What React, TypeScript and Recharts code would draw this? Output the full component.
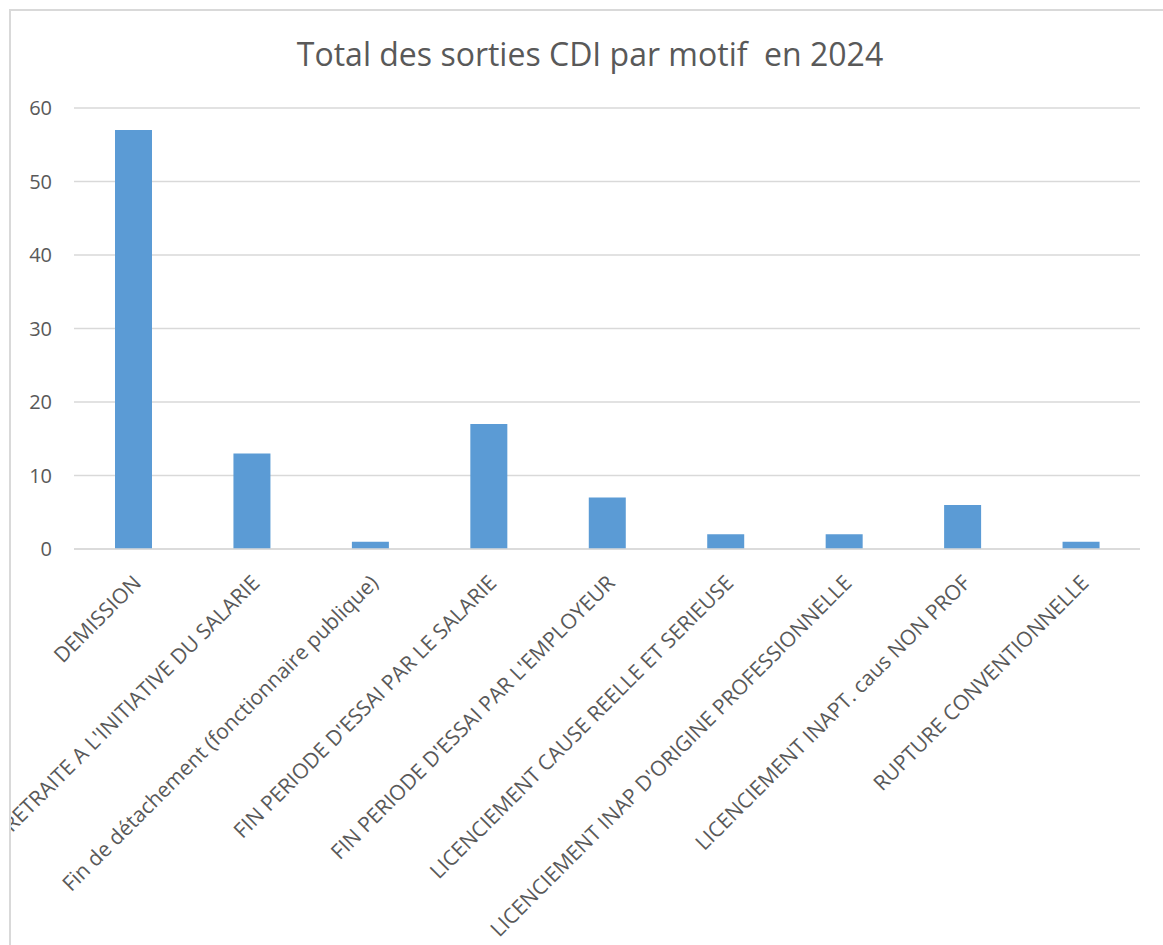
import React from "react";
import { BarChart, Bar, XAxis, YAxis, CartesianGrid } from "recharts";

const motifs = [
  "DEMISSION",
  "RETRAITE A L'INITIATIVE DU SALARIE",
  "Fin de détachement (fonctionnaire publique)",
  "FIN PERIODE D'ESSAI PAR LE SALARIE",
  "FIN PERIODE D'ESSAI PAR L'EMPLOYEUR",
  "LICENCIEMENT CAUSE REELLE ET SERIEUSE",
  "LICENCIEMENT INAP D'ORIGINE PROFESSIONNELLE",
  "LICENCIEMENT INAPT. caus NON PROF",
  "RUPTURE CONVENTIONNELLE",
];
const sorties = [57, 13, 1, 17, 7, 2, 2, 6, 1];
const yTicks = [0, 10, 20, 30, 40, 50, 60];

const data = motifs.map((motif, i) => ({ motif, total: sorties[i] }));

const FONT = "'Open Sans', sans-serif";
const TEXT = "#595959";

function RotatedTick(props: any) {
  const { x, y, payload } = props;
  return (
    <g transform={`translate(${x + 5},${y + 23})`}>
      <text
        transform="rotate(-45)"
        textAnchor="end"
        fill={TEXT}
        fontSize={21}
        fontFamily={FONT}
        dy={6}
      >
        {payload.value}
      </text>
    </g>
  );
}

export default function App() {
  return (
    <div
      style={{
        position: "fixed",
        left: 9,
        top: 9,
        width: 1154,
        height: 936,
        borderLeft: "2px solid #d9d9d9",
        borderTop: "2px solid #d9d9d9",
        overflow: "hidden",
        background: "#fff",
      }}
    >
      <BarChart
        width={1152}
        height={934}
        data={data}
        margin={{ top: 97, right: 23, left: 0, bottom: 0 }}
      >
        <text
          x={579}
          y={55}
          textAnchor="middle"
          fill={TEXT}
          fontSize={32}
          fontFamily={FONT}
          style={{ whiteSpace: "pre" }}
        >
          Total des sorties CDI par motif  en 2024
        </text>
        <CartesianGrid vertical={false} stroke="#d9d9d9" strokeWidth={1.5} />
        <XAxis
          dataKey="motif"
          interval={0}
          height={396}
          tickLine={false}
          axisLine={{ stroke: "#d9d9d9", strokeWidth: 1.5 }}
          tick={<RotatedTick />}
        />
        <YAxis
          width={63}
          domain={[0, 60]}
          ticks={yTicks}
          axisLine={false}
          tickLine={false}
          tickSize={0}
          tickMargin={22}
          tick={{ fill: TEXT, fontSize: 20, fontFamily: FONT }}
        />
        <Bar dataKey="total" fill="#5b9bd5" barSize={37} isAnimationActive={false} />
      </BarChart>
    </div>
  );
}
